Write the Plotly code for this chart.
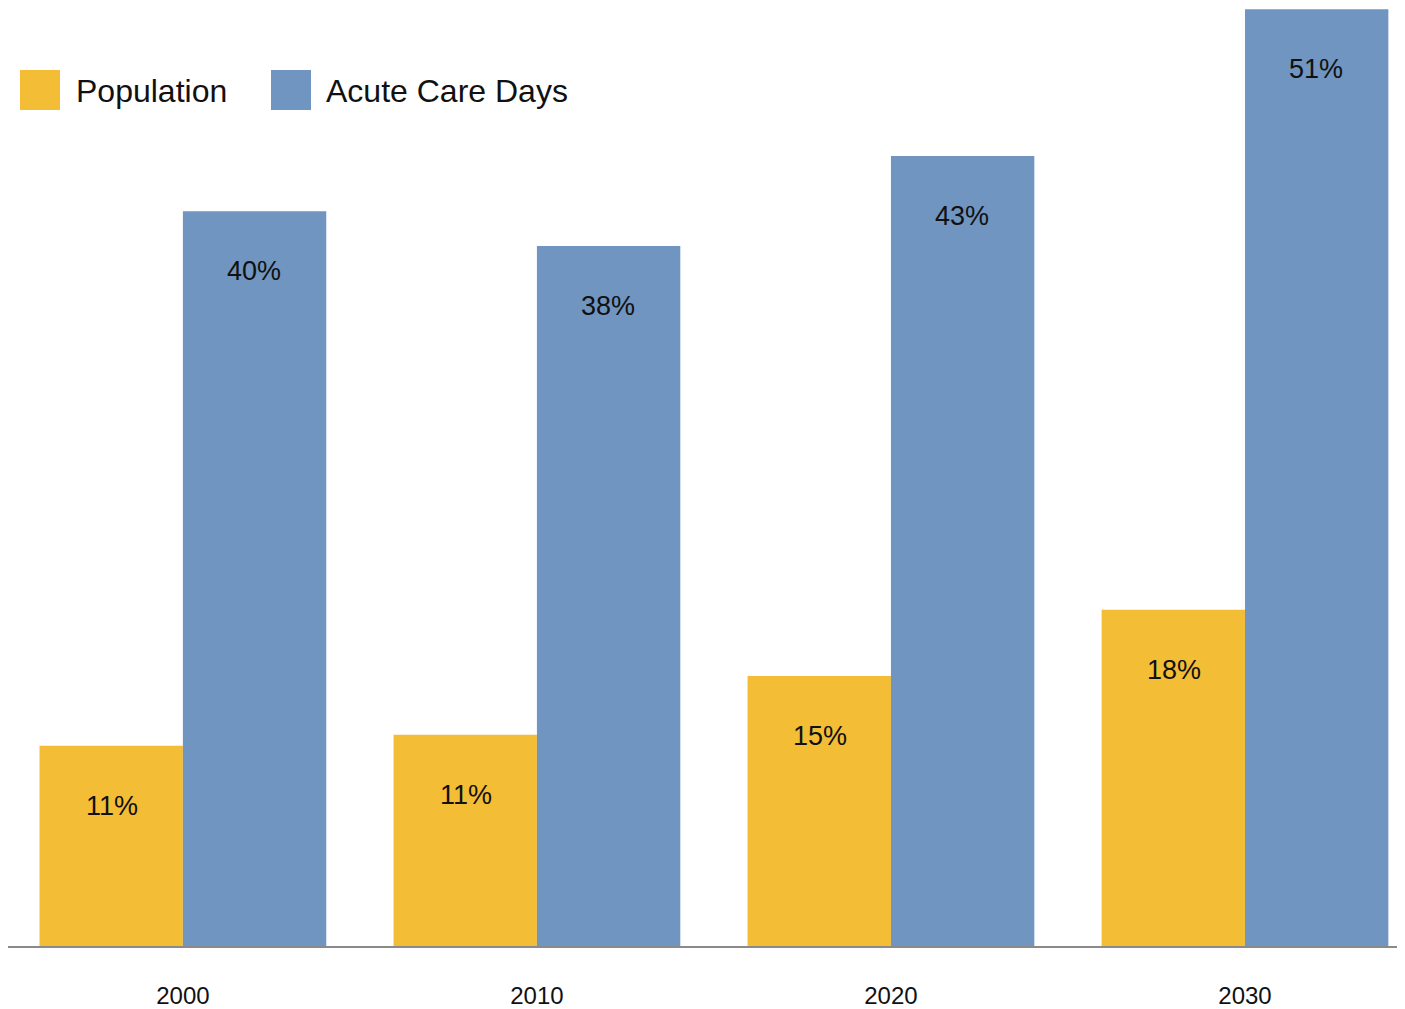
import plotly.graph_objects as go

years = ["2000", "2010", "2020", "2030"]
series_names = ["Population", "Acute Care Days"]
population = [10.9, 11.5, 14.7, 18.3]
acute_care = [40.0, 38.1, 43.0, 51.0]
population_labels = ["11%", "11%", "15%", "18%"]
acute_care_labels = ["40%", "38%", "43%", "51%"]

YELLOW = "#F4BD36"
BLUE = "#6F95C0"
OFF = 8  # page body margin
W, H = 1405 - OFF, 1009 - OFF
ML, MR, MT, MB = 0, 0, 0, 63
PW, PH = W - ML - MR, H - MT - MB

fig = go.Figure()
fig.add_trace(go.Bar(x=years, y=population, name=series_names[0],
                     marker=dict(color=YELLOW, line=dict(width=0))))
fig.add_trace(go.Bar(x=years, y=acute_care, name=series_names[1],
                     marker=dict(color=BLUE, line=dict(width=0))))

label_font = dict(family="Liberation Sans, Arial", size=27, color="#111111")
annotations = []
for i, yr in enumerate(years):
    annotations.append(dict(x=i - 0.2, y=population[i], xref="x", yref="y",
                            text=population_labels[i], showarrow=False,
                            yshift=-60, font=label_font))
    annotations.append(dict(x=i + 0.2, y=acute_care[i], xref="x", yref="y",
                            text=acute_care_labels[i], showarrow=False,
                            yshift=-60, font=label_font))

# manual legend (reference page pixel -> paper)
def px(x):
    return (x - OFF - ML) / PW

def py(y):
    return 1 - (y - OFF - MT) / PH

shapes = []
legend_font = dict(family="Liberation Sans, Arial", size=32, color="#111111")
for (x0, col, name, tx) in [(20, YELLOW, series_names[0], 74), (271, BLUE, series_names[1], 324)]:
    shapes.append(dict(type="rect", xref="paper", yref="paper",
                       x0=px(x0), x1=px(x0 + 40), y0=py(110), y1=py(70),
                       fillcolor=col, line=dict(width=0)))
    annotations.append(dict(x=px(tx), y=py(91), xref="paper", yref="paper",
                            text=name, showarrow=False, xanchor="left", yanchor="middle",
                            font=legend_font))

fig.update_layout(
    width=W, height=H,
    margin=dict(l=ML, r=MR, t=MT, b=MB, pad=0, autoexpand=False),
    paper_bgcolor="white", plot_bgcolor="white",
    barmode="group", bargap=0.19, bargroupgap=0,
    showlegend=False,
    annotations=annotations, shapes=shapes,
    xaxis=dict(type="category", range=[-0.494, 3.452], showgrid=False,
               showline=True, linecolor="#8a8a8a", linewidth=2, layer="below traces",
               ticks="", ticklabelstandoff=27, automargin=False,
               tickfont=dict(family="Liberation Sans, Arial", size=24, color="#111111")),
    yaxis=dict(range=[0, 938 / 18.37], visible=False, showgrid=False, zeroline=False),
)

fig.write_html("out.html")
